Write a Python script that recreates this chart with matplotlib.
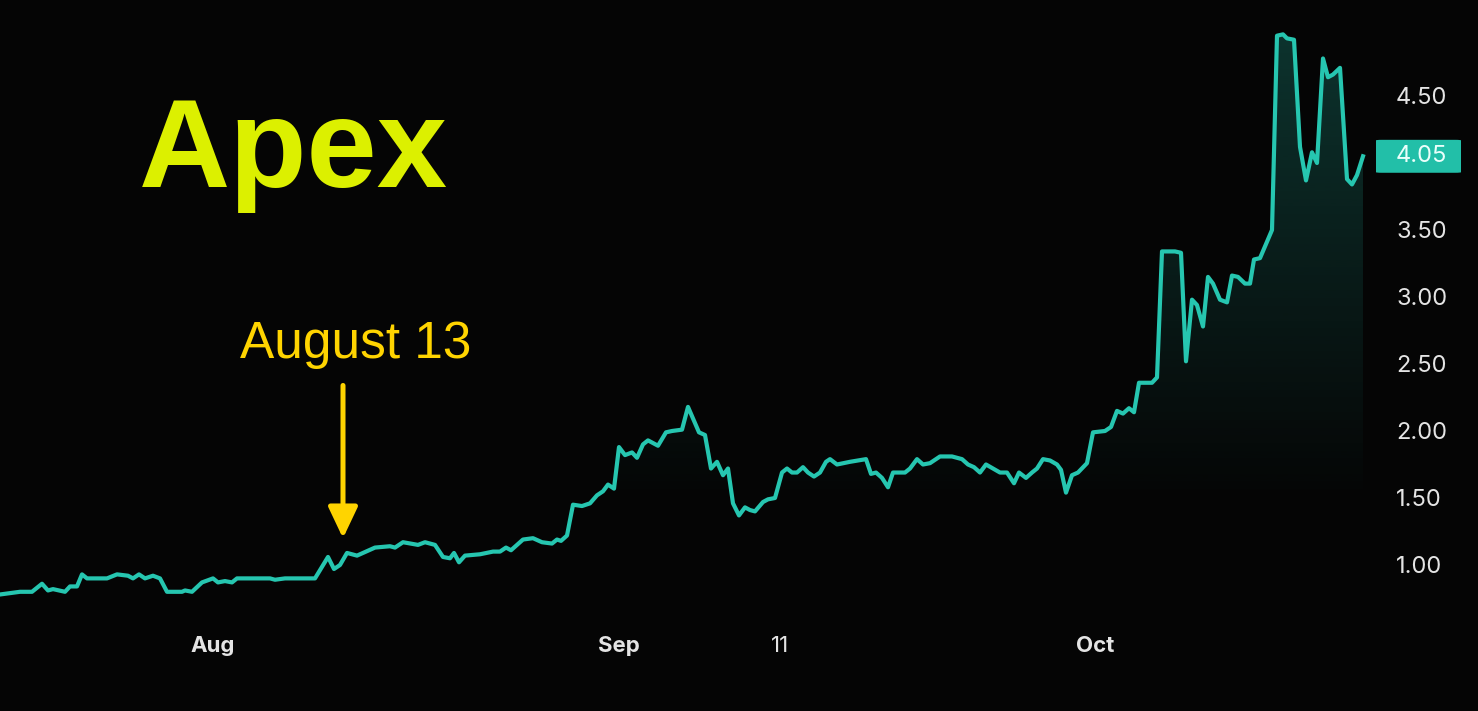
import numpy as np
import matplotlib
matplotlib.use("Agg")
import matplotlib.pyplot as plt
from matplotlib import transforms
from matplotlib.patches import FancyBboxPatch

# position along the time axis (chart units) and price
t = [0, 10, 20, 32, 42, 48, 53, 65, 70, 77, 82, 87, 107, 117, 128, 133, 139, 145,
     153, 160, 167, 182, 185, 192, 202, 213, 218, 225, 232, 237, 250,
     270, 275, 285, 315, 328, 334, 340, 347, 357, 375, 390, 395, 403, 418, 425,
     435, 443, 450, 454, 459, 465, 480, 493, 500,
     506, 511, 523, 533, 542, 552, 557, 561, 567,
     573, 582, 590, 597, 603, 608, 614, 619, 625, 632, 637, 643, 648, 658, 666,
     672, 682, 688, 699, 705, 711, 717, 723, 728, 733, 739, 745, 750,
     755, 763, 768, 775, 782, 787, 792, 797, 803, 808, 814, 820, 826, 830, 837,
     850, 858, 866, 871, 876, 882, 888, 893, 905, 910, 917, 923, 930, 940, 952,
     962, 968, 974, 980, 986, 993, 1000,
     1007, 1014, 1019, 1026, 1032, 1037, 1043, 1050, 1057, 1061, 1066, 1072,
     1078, 1087, 1093, 1105, 1111, 1117, 1123, 1129, 1134, 1139, 1152, 1157,
     1162, 1175, 1181, 1186, 1192, 1197,
     1203, 1208, 1213, 1220, 1227, 1232, 1238, 1245, 1250, 1254, 1260, 1272,
     1277, 1283, 1287, 1294, 1300, 1306, 1312, 1317, 1323, 1328, 1333, 1340,
     1347, 1352, 1357, 1363]
price = [0.78, 0.79, 0.80, 0.80, 0.86, 0.81, 0.82, 0.80, 0.84, 0.84, 0.93, 0.90, 0.90, 0.93, 0.92, 0.90, 0.93, 0.90,
         0.92, 0.90, 0.80, 0.80, 0.81, 0.80, 0.87, 0.90, 0.87, 0.88, 0.87, 0.90, 0.90,
         0.90, 0.89, 0.90, 0.90, 1.06, 0.97, 1.00, 1.09, 1.07, 1.13, 1.14, 1.13, 1.17, 1.15, 1.17,
         1.15, 1.06, 1.05, 1.09, 1.02, 1.07, 1.08, 1.10, 1.10,
         1.13, 1.11, 1.19, 1.20, 1.17, 1.16, 1.19, 1.18, 1.22,
         1.45, 1.44, 1.46, 1.52, 1.55, 1.60, 1.57, 1.88, 1.82, 1.84, 1.80, 1.90, 1.93, 1.89, 1.99,
         2.00, 2.01, 2.18, 1.99, 1.97, 1.72, 1.77, 1.67, 1.72, 1.46, 1.37, 1.43, 1.41,
         1.40, 1.47, 1.49, 1.50, 1.69, 1.72, 1.69, 1.69, 1.73, 1.69, 1.66, 1.69, 1.77, 1.79, 1.75,
         1.77, 1.78, 1.79, 1.68, 1.69, 1.65, 1.58, 1.69, 1.69, 1.72, 1.79, 1.75, 1.76, 1.81, 1.81,
         1.79, 1.75, 1.73, 1.69, 1.75, 1.72, 1.69,
         1.69, 1.61, 1.69, 1.65, 1.69, 1.72, 1.79, 1.78, 1.75, 1.71, 1.54, 1.67,
         1.69, 1.76, 1.99, 2.00, 2.03, 2.15, 2.13, 2.17, 2.14, 2.36, 2.36, 2.40,
         3.34, 3.34, 3.33, 2.52, 2.98, 2.94,
         2.78, 3.15, 3.10, 2.98, 2.96, 3.16, 3.15, 3.10, 3.10, 3.28, 3.29, 3.50,
         4.95, 4.96, 4.93, 4.92, 4.12, 3.87, 4.08, 4.00, 4.78, 4.64, 4.66, 4.71,
         3.88, 3.84, 3.91, 4.05]

ytick_vals = [1.00, 1.50, 2.00, 2.50, 3.00, 3.50, 4.50]
xtick_pos = [213, 619, 780, 1095]
xtick_labels = ["Aug", "Sep", "11", "Oct"]
last_price = 4.05
marker_t = 343   # August 13

bg = "#050505"
teal = "#26c6b0"

fig = plt.figure(figsize=(14.78, 7.11), dpi=100, facecolor=bg)
ax = fig.add_axes([0, 0, 1, 1])
ax.set_facecolor(bg)
ax.set_xlim(0, 1478)
ax.set_ylim(-0.0896, 5.2164)
for s in ax.spines.values():
    s.set_visible(False)

# gradient fill under the line
poly = ax.fill_between(t, price, -0.09, color="none", lw=0)
grad_y = np.linspace(-0.09, 5.2, 300)
alpha = 0.24 * np.clip((grad_y - 1.45) / 3.5, 0, 1)
rgba = np.zeros((300, 1, 4))
rgba[:, 0, :3] = matplotlib.colors.to_rgb(teal)
rgba[:, 0, 3] = alpha
img = ax.imshow(rgba, extent=(0, max(t), -0.09, 5.2), origin="lower",
                aspect="auto", zorder=1, interpolation="bilinear")
img.set_clip_path(poly.get_paths()[0], transform=ax.transData)

ax.plot(t, price, color=teal, lw=3, solid_joinstyle="round", zorder=3)

# y ticks on the right, inside the figure
ax.yaxis.tick_right()
ax.set_yticks(ytick_vals)
ax.set_yticklabels([f"{v:.2f}" for v in ytick_vals])
ax.tick_params(axis="y", length=0, pad=-59, labelsize=17, labelcolor="#e4e4e4")
ax.set_xticks(xtick_pos)
ax.set_xticklabels(xtick_labels)
ax.tick_params(axis="x", length=0, pad=-54, labelsize=16, labelcolor="#e4e4e4")
for lab in ax.get_yticklabels() + ax.get_xticklabels():
    lab.set_family("Inter")
for lab in ax.get_xticklabels():
    if lab.get_text() != "11":
        lab.set_fontweight("bold")

# current price badge
blend = transforms.blended_transform_factory(ax.transAxes, ax.transData)
badge = FancyBboxPatch((1376 / 1478, last_price - 0.123), 85 / 1478, 0.246,
                       boxstyle="round,pad=0,rounding_size=0.004",
                       transform=blend, facecolor="#22bfa8", edgecolor="none",
                       zorder=4)
ax.add_patch(badge)
ax.text(1421 / 1478, last_price, f"{last_price:.2f}", transform=blend,
        ha="center", va="center", fontsize=17, color="#eafffb",
        family="Inter", zorder=5)

# title and annotation
fig.text(139 / 1478, 1 - 187 / 711, "Apex", fontsize=91, fontweight="bold",
         family="Liberation Sans", color="#dcf000", va="baseline", ha="left")
fig.text(356 / 1478, 1 - 358 / 711, "August 13", fontsize=37,
         family="Liberation Sans", color="#ffd400", va="baseline", ha="center")
ax.annotate("", xy=(marker_t, 1.20), xytext=(marker_t, 2.34),
            arrowprops=dict(arrowstyle="-|>,head_width=0.45,head_length=0.95",
                            mutation_scale=20, lw=3.6, color="#ffd400",
                            shrinkA=0, shrinkB=0), zorder=5)

fig.savefig("out.png", dpi=100, facecolor=bg)
